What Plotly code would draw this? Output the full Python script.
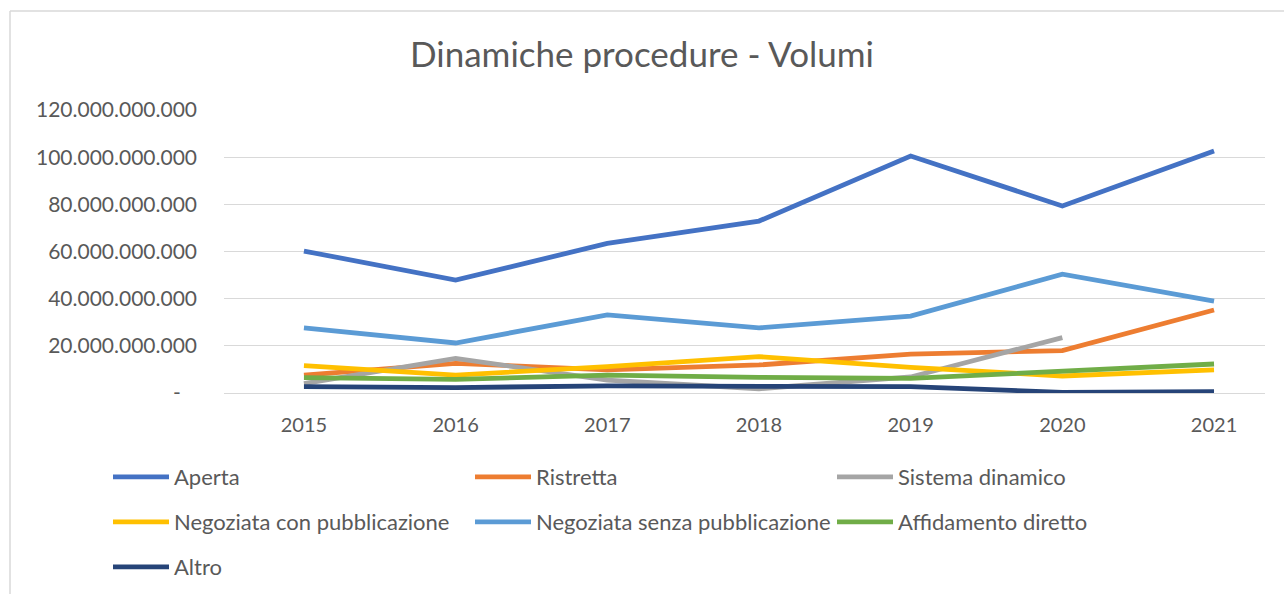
import plotly.graph_objects as go

years = ["2015", "2016", "2017", "2018", "2019", "2020", "2021"]

aperta = [60.2e9, 47.9e9, 63.4e9, 72.9e9, 100.5e9, 79.3e9, 102.6e9]
ristretta = [7.6e9, 12.6e9, 9.8e9, 11.9e9, 16.5e9, 18.0e9, 35.2e9]
sistema_dinamico = [4.0e9, 14.7e9, 5.5e9, 1.8e9, 6.8e9, 23.5e9, None]
negoziata_con = [11.6e9, 7.6e9, 11.2e9, 15.4e9, 10.9e9, 7.2e9, 9.8e9]
negoziata_senza = [27.6e9, 21.2e9, 33.1e9, 27.6e9, 32.6e9, 50.4e9, 39.0e9]
affidamento = [6.5e9, 5.8e9, 7.6e9, 6.6e9, 6.2e9, 9.3e9, 12.3e9]
altro = [2.7e9, 2.3e9, 3.0e9, 2.7e9, 2.7e9, 0.3e9, 0.6e9]

series_names = ["Aperta", "Ristretta", "Sistema dinamico",
                "Negoziata con pubblicazione", "Negoziata senza pubblicazione",
                "Affidamento diretto", "Altro"]
series_values = [aperta, ristretta, sistema_dinamico, negoziata_con,
                 negoziata_senza, affidamento, altro]
series_colors = ["#4472C4", "#ED7D31", "#A5A5A5", "#FFC000", "#5B9BD5",
                 "#70AD47", "#264478"]
legend_rows = ["legend", "legend", "legend", "legend2", "legend2", "legend2", "legend3"]

y_tickvals = [0, 20e9, 40e9, 60e9, 80e9, 100e9, 120e9]
y_ticktext = ["-   ", "20.000.000.000", "40.000.000.000", "60.000.000.000",
              "80.000.000.000", "100.000.000.000", "120.000.000.000"]

FONT = "Lato, Carlito, Calibri, sans-serif"
TXT = "#595959"

fig = go.Figure()
xs = list(range(len(years)))
for name, vals, color, lg in zip(series_names, series_values, series_colors, legend_rows):
    fig.add_trace(go.Scatter(
        x=xs, y=vals, name=name, mode="lines",
        line=dict(color=color, width=4.8),
        connectgaps=False, hoverinfo="skip", legend=lg,
    ))

W, H = 1284, 594
ml, mr, mt, mb = 224, 19, 110, 201
pw = W - ml - mr
ph = H - mt - mb


def px_x(p):
    return (p - ml) / pw


def px_y(p):
    return (H - mb - p) / ph


def legend_at(row_y):
    return dict(
        orientation="h", x=px_x(108), xanchor="left",
        y=px_y(row_y), yanchor="middle",
        entrywidth=291, entrywidthmode="pixels",
        font=dict(size=22, color=TXT, family=FONT),
        itemwidth=56, bgcolor="rgba(0,0,0,0)", traceorder="normal",
    )


fig.update_layout(
    width=W, height=H,
    margin=dict(l=ml, r=mr, t=mt, b=mb, autoexpand=False),
    paper_bgcolor="white", plot_bgcolor="white",
    font=dict(family=FONT, color=TXT, size=20),
    title=dict(text="Dinamiche procedure - Volumi", x=0.5, xanchor="center",
               y=px_y(55) * ph / H + mb / H, yanchor="middle",
               font=dict(family=FONT, size=35, color=TXT)),
    xaxis=dict(
        range=[-0.527, 6.336], tickvals=xs, ticktext=years,
        showgrid=False, zeroline=False, showline=False, ticks="",
        tickfont=dict(size=20, color=TXT), ticklabelstandoff=18,
        fixedrange=True,
    ),
    yaxis=dict(
        range=[0, 120e9], tickvals=y_tickvals, ticktext=y_ticktext,
        showgrid=True, gridcolor="#D9D9D9", gridwidth=1,
        zeroline=True, zerolinecolor="#D9D9D9", zerolinewidth=1,
        showline=False, ticks="",
        tickfont=dict(size=21, color=TXT), ticklabelstandoff=26,
        fixedrange=True,
    ),
    legend=legend_at(477),
    legend2=legend_at(522),
    legend3=legend_at(567),
    showlegend=True,
)

# outer chart border (left and top edges visible)
bx = px_x(10)
by = px_y(11)
fig.add_shape(type="line", xref="paper", yref="paper", x0=bx, x1=bx, y0=by, y1=-1,
              line=dict(color="#D9D9D9", width=1.5))
fig.add_shape(type="line", xref="paper", yref="paper", x0=bx, x1=1.5, y0=by, y1=by,
              line=dict(color="#D9D9D9", width=1.5))

fig.write_html("out.html", config={"displayModeBar": False},
               post_script="document.body.style.margin='0';document.body.style.overflow='hidden';")
